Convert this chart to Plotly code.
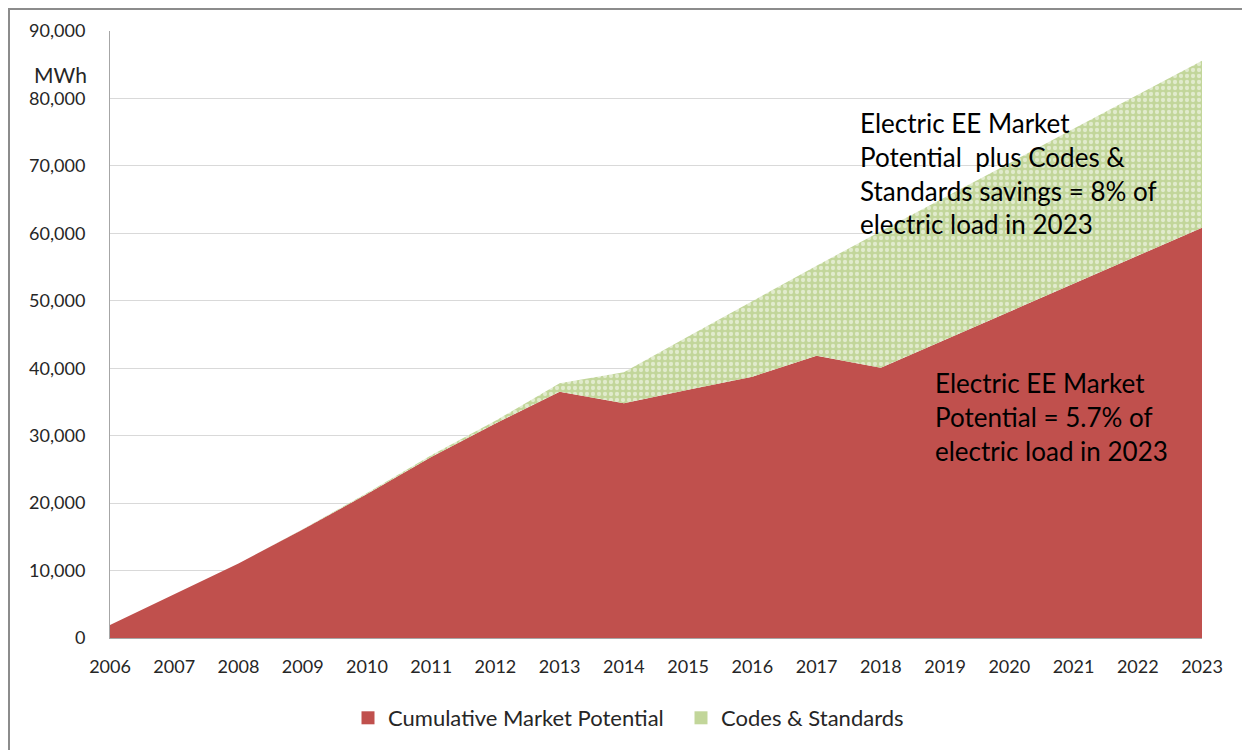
import plotly.graph_objects as go

years = list(range(2006, 2024))
market_potential = [1930, 6430, 11050, 16070, 21340, 26840, 31800, 36520, 34800,
                    36800, 38750, 41860, 40080, 44230, 48380, 52540, 56690, 60840]
codes_standards = [0, 0, 0, 50, 150, 250, 400, 1240, 4600,
                   7900, 11250, 13340, 20220, 21070, 22020, 22960, 23910, 24760]
y_ticks = list(range(0, 90001, 10000))

FONT = "Lato, 'Open Sans', sans-serif"
RED = "#c0504d"
GREEN = "#c2d69a"

# the page body has an 8px margin, so the figure starts at (8, 8)
OFF = 8
W, H = 1250 - OFF, 750 - OFF
PL, PR, PT, PB = 110, 1202, 31, 638  # plot area in page pixels


def px(x):
    return (x - PL) / (PR - PL)


def py(y):
    return (PB - y) / (PB - PT)


fig = go.Figure()
fig.add_trace(go.Scatter(
    x=years, y=market_potential, name="Cumulative Market Potential",
    stackgroup="one", mode="lines", line=dict(width=0, color=RED),
    fillcolor=RED, showlegend=False,
))
fig.add_trace(go.Scatter(
    x=years, y=codes_standards, name="Codes & Standards",
    stackgroup="one", mode="lines", line=dict(width=0, color=GREEN),
    fillcolor=GREEN, showlegend=False,
    fillpattern=dict(shape=".", bgcolor=GREEN, fgcolor="#ffffff", size=6, solidity=0.4),
))
# legend keys (square swatches)
fig.add_trace(go.Scatter(x=[None], y=[None], mode="markers", name="Cumulative Market Potential",
                         marker=dict(symbol="square", size=13, color=RED)))
fig.add_trace(go.Scatter(x=[None], y=[None], mode="markers", name="Codes & Standards",
                         marker=dict(symbol="square", size=13, color="#c2d69a")))

fig.update_layout(
    width=W, height=H,
    margin=dict(l=PL - OFF, r=1250 - PR, t=PT - OFF, b=750 - PB, autoexpand=False),
    paper_bgcolor="white", plot_bgcolor="white",
    font=dict(family=FONT, size=18, color="#262626"),
    showlegend=True,
    legend=dict(orientation="h", x=px(348), xanchor="left",
                yref="container", y=1 - (697 - OFF) / H, yanchor="top",
                font=dict(size=22, color="#262626"), traceorder="normal",
                itemwidth=30, entrywidth=288, bgcolor="rgba(0,0,0,0)"),
    xaxis=dict(range=[2006, 2023], tickmode="array", tickvals=years,
               ticktext=[str(y) for y in years], showgrid=False,
               showline=True, linecolor="#a6a6a6", linewidth=1,
               ticks="", ticklabelstandoff=12, zeroline=False,
               tickfont=dict(size=18)),
    yaxis=dict(range=[0, 90000], tickmode="array", tickvals=y_ticks,
               ticktext=[f"{v:,}" for v in y_ticks], showgrid=True,
               gridcolor="#d9d9d9", gridwidth=1, showline=True, linecolor="#a6a6a6",
               linewidth=1, ticks="", ticklabelstandoff=20, zeroline=False,
               tickfont=dict(size=18)),
)

fig.add_annotation(xref="paper", yref="paper", x=px(89), y=py(75),
                   xanchor="right", yanchor="middle", text="MWh", showarrow=False,
                   font=dict(size=21, color="#262626"))
fig.add_annotation(xref="paper", yref="paper", x=px(858), y=py(105),
                   xanchor="left", yanchor="top", align="left", showarrow=False,
                   text="Electric EE Market<br>Potential  plus Codes &amp;<br>Standards savings = 8% of<br>electric load in 2023",
                   font=dict(size=26, color="#000000"))
fig.add_annotation(xref="paper", yref="paper", x=px(933), y=py(365),
                   xanchor="left", yanchor="top", align="left", showarrow=False,
                   text="Electric EE Market<br>Potential = 5.7% of<br>electric load in 2023",
                   font=dict(size=26, color="#000000"))

# outer frame of the chart area
fig.add_shape(type="rect", xref="paper", yref="paper",
              x0=px(9), x1=px(1300), y0=py(800), y1=py(9),
              line=dict(color="#8c8c8c", width=2), fillcolor="rgba(0,0,0,0)", layer="below")

fig.write_html("out.html")
